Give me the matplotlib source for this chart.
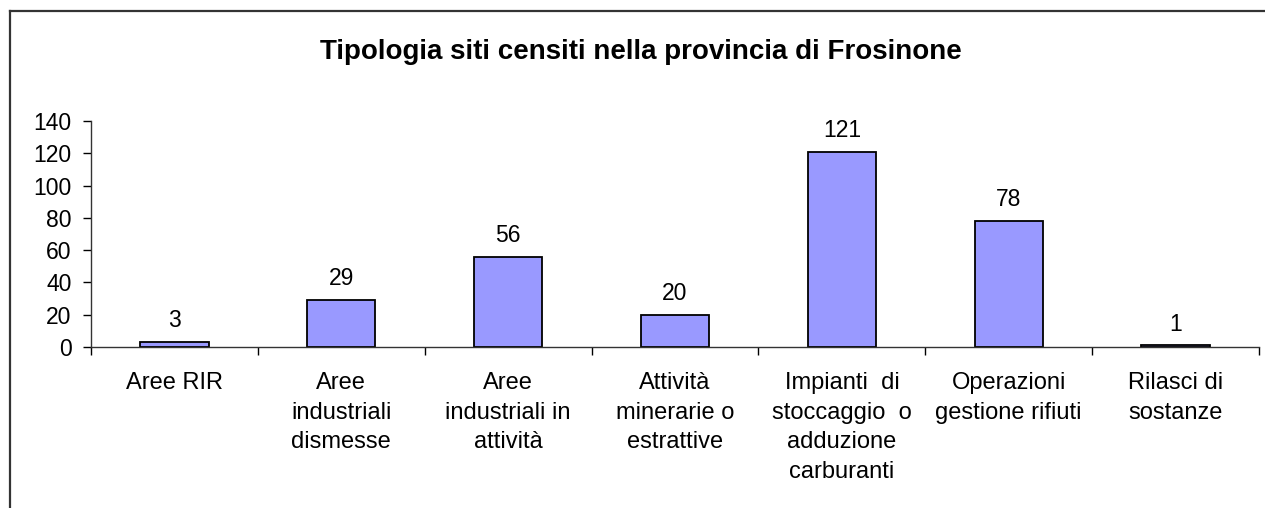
import matplotlib
matplotlib.use("Agg")
import matplotlib.pyplot as plt
from matplotlib.lines import Line2D

plt.rcParams['font.family'] = ['Liberation Sans', 'DejaVu Sans']

# --- Dati ---
categorie = [
    "Aree RIR",
    "Aree\nindustriali\ndismesse",
    "Aree\nindustriali in\nattività",
    "Attività\nminerarie o\nestrattive",
    "Impianti  di\nstoccaggio  o\nadduzione\ncarburanti",
    "Operazioni\ngestione rifiuti",
    "Rilasci di\nsostanze",
]
valori = [3, 29, 56, 20, 121, 78, 1]
y_ticks = [0, 20, 40, 60, 80, 100, 120, 140]
titolo = "Tipologia siti censiti nella provincia di Frosinone"

fig = plt.figure(figsize=(12.65, 5.08), dpi=100)
ax = fig.add_axes([0.0719, 0.3169, 0.9953 - 0.0719, 0.7618 - 0.3169])

pos = [i + 0.5 for i in range(len(valori))]
barre = ax.bar(pos, valori, width=0.41, color="#9999FF",
               edgecolor="black", linewidth=1.3)

for x, v in zip(pos, valori):
    ax.annotate(str(v), (x, v), xytext=(0, 7), textcoords="offset points",
                ha="center", va="bottom", fontsize=16.5)

ax.set_xlim(0, len(valori))
ax.set_ylim(0, 140)
ax.set_yticks(y_ticks)
ax.tick_params(axis="y", labelsize=16.5, length=6, width=1, pad=8)

# tick sui confini, etichette al centro
ax.set_xticks(range(len(valori) + 1))
ax.set_xticklabels([])
ax.tick_params(axis="x", which="major", length=6, width=1, direction="out")
ax.set_xticks(pos, minor=True)
ax.set_xticklabels(categorie, minor=True, fontsize=17, va="top",
                   linespacing=1.45)
ax.tick_params(axis="x", which="minor", length=0, pad=18)

for s in ["top", "right"]:
    ax.spines[s].set_visible(False)
for s in ["left", "bottom"]:
    ax.spines[s].set_color("#333333")
    ax.spines[s].set_linewidth(1)

fig.text(641 / 1265, 1 - 52 / 508, titolo, ha="center", va="center",
         fontsize=20, fontweight="bold")

# bordo del grafico (sinistra e sopra)
fig.add_artist(Line2D([10 / 1265, 10 / 1265], [0, 1 - 11 / 508],
                      transform=fig.transFigure, color="#333333", lw=1.6))
fig.add_artist(Line2D([10 / 1265, 1], [1 - 11 / 508, 1 - 11 / 508],
                      transform=fig.transFigure, color="#333333", lw=1.6))

fig.savefig("out.png", dpi=100)
